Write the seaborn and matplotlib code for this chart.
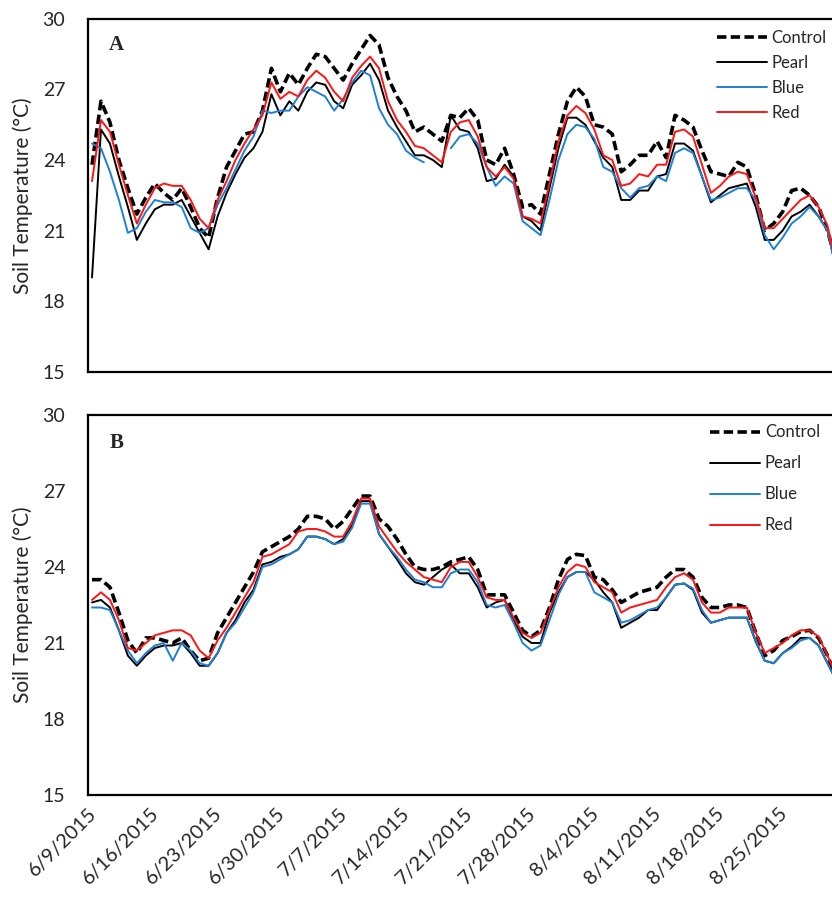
import matplotlib
matplotlib.use("Agg")
import matplotlib.pyplot as plt
import matplotlib.dates as mdates
import seaborn as sns
import pandas as pd
import numpy as np

# daily mean soil temperature, 6/9/2015 - 8/31/2015
dates = pd.date_range("2015-06-09 12:00", periods=84, freq="D")
tick_dates = pd.date_range("2015-06-09", "2015-08-25", freq="7D")

series_names = ["Control", "Pearl", "Blue", "Red"]

# panel A
a_control = [23.8, 26.5, 25.6, 24.0, 22.8, 21.7, 22.4, 23.0, 22.6, 22.3,
             22.8, 22.0, 21.1, 20.7, 22.4, 23.7, 24.4, 25.1, 25.2, 26.1,
             27.9, 26.9, 27.7, 27.2, 27.9, 28.5, 28.4, 27.9, 27.4, 28.1,
             28.7, 29.3, 28.9, 27.5, 26.7, 26.1, 25.2, 25.4, 25.1, 24.8,
             25.9, 25.8, 26.2, 25.7, 24.0, 23.8, 24.5, 23.4, 22.0, 22.1,
             21.7, 23.4, 25.1, 26.5, 27.1, 26.7, 25.5, 25.4, 25.1, 23.5,
             23.8, 24.2, 24.2, 24.8, 24.1, 25.9, 25.7, 25.4, 24.4, 23.5,
             23.4, 23.3, 23.9, 23.7, 22.5, 21.0, 21.3, 21.8, 22.7, 22.8,
             22.5, 22.0, 21.0, 19.6]
a_pearl = [19.0, 25.3, 24.7, 23.3, 22.0, 20.6, 21.3, 21.9, 22.1, 22.1,
           22.3, 21.6, 20.9, 20.2, 21.6, 22.6, 23.4, 24.1, 24.5, 25.2,
           26.8, 25.9, 26.5, 26.1, 26.9, 27.3, 27.2, 26.5, 26.2, 27.2,
           27.6, 28.1, 27.4, 26.1, 25.4, 24.8, 24.2, 24.2, 24.0, 23.7,
           25.9, 25.3, 25.2, 24.5, 23.1, 23.2, 23.8, 23.3, 21.6, 21.4,
           21.0, 22.8, 24.5, 25.8, 25.8, 25.5, 24.8, 24.1, 23.7, 22.3,
           22.3, 22.7, 22.7, 23.3, 23.4, 24.7, 24.7, 24.4, 23.3, 22.2,
           22.5, 22.8, 22.9, 23.0, 22.0, 20.6, 20.6, 21.0, 21.6, 21.8,
           22.1, 21.6, 21.0, 19.3]
a_blue = [24.7, 24.5, 23.5, 22.3, 20.9, 21.1, 21.8, 22.3, 22.2, 22.2,
          22.0, 21.1, 20.9, 21.1, 22.1, 22.8, 23.6, 24.4, 25.0, 26.1,
          26.0, 26.1, 26.1, 26.7, 27.1, 26.9, 26.7, 26.1, 26.6, 27.3,
          27.8, 27.6, 26.2, 25.5, 25.1, 24.4, 24.1, 23.9, np.nan, np.nan,
          24.5, 25.0, 25.1, 24.7, 23.7, 22.9, 23.3, 23.0, 21.4, 21.1,
          20.8, 22.3, 24.0, 25.1, 25.5, 25.4, 24.9, 23.7, 23.5, 22.8,
          22.4, 22.8, 22.9, 23.3, 23.1, 24.3, 24.5, 24.3, 23.3, 22.3,
          22.4, 22.6, 22.8, 22.8, 22.3, 20.8, 20.2, 20.7, 21.3, 21.6,
          22.0, 21.6, 21.0, 19.3]
a_red = [23.1, 25.7, 25.2, 23.8, 22.5, 21.3, 22.1, 22.8, 23.0, 22.9,
         22.9, 22.3, 21.5, 21.1, 22.3, 23.1, 24.0, 24.7, 25.3, 25.9,
         27.3, 26.6, 26.9, 26.7, 27.4, 27.8, 27.5, 26.9, 26.5, 27.5,
         28.0, 28.4, 27.9, 26.5, 25.7, 25.2, 24.6, 24.5, 24.2, 23.9,
         25.2, 25.6, 25.7, 25.0, 23.7, 23.3, 23.7, 23.2, 21.6, 21.5,
         21.3, 23.0, 24.8, 25.9, 26.3, 26.0, 25.3, 24.2, 24.0, 22.9,
         23.0, 23.4, 23.3, 23.8, 23.8, 25.2, 25.3, 25.0, 23.8, 22.6,
         22.9, 23.3, 23.5, 23.4, 22.4, 21.1, 21.1, 21.5, 21.9, 22.3,
         22.5, 22.0, 21.2, 19.5]

# panel B
b_control = [23.5, 23.5, 23.2, 22.2, 21.1, 20.6, 21.2, 21.2, 21.1, 21.0,
             21.2, 20.7, 20.3, 20.4, 21.4, 22.0, 22.6, 23.2, 23.8, 24.6,
             24.8, 25.0, 25.2, 25.5, 26.0, 26.0, 25.9, 25.5, 25.8, 26.3,
             26.8, 26.8, 25.9, 25.6, 25.1, 24.5, 24.0, 23.9, 23.9, 24.0,
             24.2, 24.3, 24.4, 23.9, 22.9, 22.9, 22.9, 22.2, 21.5, 21.25,
             21.5, 22.4, 23.5, 24.3, 24.5, 24.45, 23.6, 23.5, 23.1, 22.6,
             22.8, 23.0, 23.1, 23.2, 23.6, 23.9, 23.9, 23.6, 22.8, 22.4,
             22.4, 22.5, 22.5, 22.4, 21.4, 20.5, 20.7, 21.1, 21.25, 21.45,
             21.5, 21.2, 20.5, 19.6]
b_pearl = [22.6, 22.7, 22.4, 21.5, 20.5, 20.1, 20.5, 20.8, 20.9, 20.9,
           21.0, 20.6, 20.1, 20.1, 20.6, 21.4, 21.9, 22.6, 23.1, 24.1,
           24.2, 24.4, 24.5, 24.7, 25.2, 25.2, 25.1, 24.9, 25.1, 25.65,
           26.6, 26.6, 25.3, 24.8, 24.3, 23.75, 23.4, 23.3, 23.6, 23.9,
           24.1, 23.75, 23.75, 23.2, 22.4, 22.6, 22.7, 21.9, 21.25, 21.0,
           21.0, 22.2, 23.0, 23.6, 23.8, 23.8, 23.5, 23.0, 22.6, 21.6,
           21.8, 22.0, 22.3, 22.3, 22.8, 23.3, 23.35, 23.1, 22.2, 21.8,
           21.9, 22.0, 22.0, 22.0, 21.05, 20.3, 20.2, 20.6, 20.85, 21.2,
           21.2, 20.9, 20.2, 19.5]
b_blue = [22.4, 22.4, 22.3, 21.5, 20.7, 20.2, 20.6, 20.9, 21.0, 20.3,
          21.0, 20.7, 20.2, 20.1, 20.6, 21.4, 21.8, 22.4, 23.0, 24.0,
          24.1, 24.3, 24.5, 24.7, 25.2, 25.2, 25.1, 24.9, 25.0, 25.55,
          26.5, 26.5, 25.3, 24.8, 24.4, 23.9, 23.5, 23.4, 23.2, 23.2,
          23.75, 23.9, 23.9, 23.4, 22.5, 22.4, 22.5, 21.8, 21.0, 20.7,
          20.9, 21.9, 22.9, 23.6, 23.8, 23.8, 23.0, 22.8, 22.6, 21.8,
          21.9, 22.1, 22.3, 22.4, 22.8, 23.3, 23.35, 23.15, 22.3, 21.8,
          21.9, 22.0, 22.0, 22.0, 21.1, 20.3, 20.2, 20.6, 20.8, 21.1,
          21.2, 20.9, 20.2, 19.5]
b_red = [22.7, 23.0, 22.7, 21.9, 20.8, 20.7, 21.0, 21.3, 21.4, 21.5,
         21.5, 21.3, 20.7, 20.4, 21.1, 21.6, 22.2, 22.8, 23.4, 24.4,
         24.5, 24.7, 24.9, 25.4, 25.5, 25.5, 25.4, 25.2, 25.2, 25.8,
         26.7, 26.7, 25.6, 25.1, 24.6, 24.2, 23.9, 23.6, 23.5, 23.4,
         24.0, 24.2, 24.2, 23.6, 22.8, 22.7, 22.7, 22.0, 21.4, 21.2,
         21.4, 22.3, 23.2, 23.8, 24.1, 24.0, 23.4, 23.2, 23.0, 22.2,
         22.4, 22.5, 22.6, 22.7, 23.2, 23.6, 23.75, 23.5, 22.6, 22.2,
         22.2, 22.4, 22.4, 22.4, 21.4, 20.6, 20.8, 21.0, 21.3, 21.5,
         21.5, 21.25, 20.5, 19.7]

colors = {"Control": "black", "Pearl": "black", "Blue": "#1f80d2", "Red": "#ff1414"}
widths = {"Control": 2.6, "Pearl": 1.4, "Blue": 1.4, "Red": 1.4}

sns.set_style("white")
plt.rcParams["font.family"] = ["Lato", "DejaVu Sans"]

fig = plt.figure(figsize=(8.32, 9), dpi=100)
W = 0.9056
ax_a = fig.add_axes([0.1052, 0.5872, W, 0.3917])
ax_b = fig.add_axes([0.1052, 0.1167, W, 0.4222])


def draw(ax, values, letter, leg_x, leg_y, spacing):
    for name, vals in zip(series_names, values):
        vals = np.asarray(vals, dtype=float)
        seg = np.isnan(vals).cumsum()  # keep gaps as gaps
        df = pd.DataFrame({"date": dates, "temp": vals, "seg": seg}).dropna()
        ls = (0, (2.6, 1.2)) if name == "Control" else "-"
        sns.lineplot(data=df, x="date", y="temp", units="seg", estimator=None,
                     ax=ax, color=colors[name], lw=widths[name],
                     linestyle=ls, label=name)
    handles, labels = ax.get_legend_handles_labels()
    uniq = dict(zip(labels, handles))
    ax.legend([uniq[n] for n in series_names], series_names, loc="upper left",
              bbox_to_anchor=(leg_x, leg_y), frameon=False, fontsize=12,
              handlelength=3.0, handletextpad=0.3, borderpad=0,
              borderaxespad=0, labelspacing=spacing)
    ax.set_ylim(15, 30)
    ax.set_yticks([15, 18, 21, 24, 27, 30])
    ax.set_xlim(pd.Timestamp("2015-06-09"), pd.Timestamp("2015-09-01"))
    ax.set_xticks(tick_dates)
    ax.set_ylabel("Soil Temperature (\u00b0C)", fontsize=15)
    ax.yaxis.set_label_coords(-0.073, 0.5)
    ax.set_xlabel("")
    ax.tick_params(axis="y", length=0, pad=16, labelsize=14)
    for sp in ax.spines.values():
        sp.set_linewidth(1.6)
        sp.set_color("black")
    ax.text(0.038, 0.925, letter, transform=ax.transAxes, fontsize=15,
            fontweight="bold", family="Liberation Serif", va="center", ha="center")


draw(ax_a, [a_control, a_pearl, a_blue, a_red], "A", 0.835, 0.97, 0.55)
draw(ax_b, [b_control, b_pearl, b_blue, b_red], "B", 0.826, 0.975, 0.9)

ax_a.tick_params(axis="x", length=0, labelbottom=False)
ax_b.tick_params(axis="x", length=5, width=0.8, direction="out", labelsize=14.5, pad=2)
ax_b.xaxis.set_major_formatter(
    matplotlib.ticker.FuncFormatter(
        lambda v, pos: "{d.month}/{d.day}/{d.year}".format(d=mdates.num2date(v))))
for lab in ax_b.get_xticklabels():
    lab.set_rotation(45)
    lab.set_ha("right")
    lab.set_rotation_mode("anchor")

fig.savefig("out.png", dpi=100)
plt.close(fig)
